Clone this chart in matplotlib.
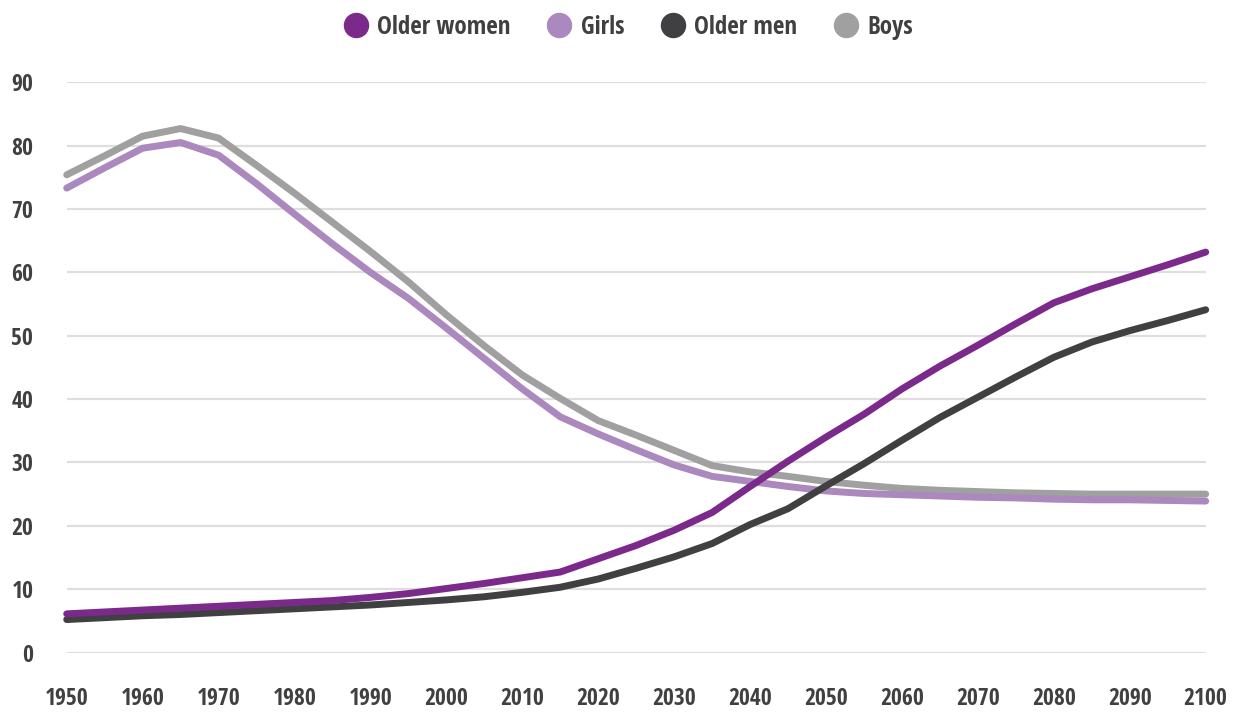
"""
Share of older people vs children, 1950-2100 (line chart).
"""

import matplotlib
matplotlib.use("Agg")
import matplotlib.pyplot as plt
from matplotlib.lines import Line2D

# ─────────────────────────────────────────────
#  DATA (every 5 years)
# ─────────────────────────────────────────────
years = list(range(1950, 2101, 5))

older_women = [6.1, 6.4, 6.7, 7.0, 7.3, 7.6, 7.9, 8.2, 8.7, 9.3,
               10.1, 10.9, 11.8, 12.7, 14.8, 16.9, 19.3, 22.1, 26.2, 30.2,
               34.0, 37.6, 41.6, 45.2, 48.5, 51.9, 55.2, 57.4, 59.3, 61.2,
               63.2]
girls = [73.3, 76.5, 79.6, 80.5, 78.5, 74.0, 69.2, 64.5, 60.0, 55.9,
         51.2, 46.4, 41.6, 37.2, 34.5, 32.0, 29.6, 27.8, 27.0, 26.2,
         25.5, 25.1, 24.9, 24.7, 24.5, 24.4, 24.2, 24.1, 24.1, 24.0,
         23.9]
older_men = [5.2, 5.5, 5.8, 6.0, 6.3, 6.6, 6.9, 7.2, 7.5, 7.9,
             8.3, 8.8, 9.5, 10.3, 11.6, 13.3, 15.1, 17.2, 20.2, 22.7,
             26.3, 29.8, 33.5, 37.1, 40.3, 43.5, 46.6, 49.0, 50.8, 52.4,
             54.1]
boys = [75.4, 78.4, 81.5, 82.7, 81.2, 76.9, 72.5, 67.9, 63.3, 58.5,
        53.3, 48.4, 43.8, 40.1, 36.6, 34.3, 31.9, 29.5, 28.5, 27.8,
        27.0, 26.4, 25.9, 25.6, 25.4, 25.2, 25.1, 25.0, 25.0, 25.0,
        25.0]

series_labels = ["Older women", "Girls", "Older men", "Boys"]
x_ticks = list(range(1950, 2101, 10))
y_ticks = list(range(0, 91, 10))

# ─────────────────────────────────────────────
#  STYLE
# ─────────────────────────────────────────────
colours = ["#7b2a8c", "#ab88be", "#404042", "#a0a0a0"]
text_col = "#404040"
grid_col = "#dedede"

plt.rcParams["font.family"] = ["Open Sans Condensed", "Liberation Sans Narrow",
                               "DejaVu Sans"]
plt.rcParams["font.weight"] = "bold"

fig = plt.figure(figsize=(12.34, 7.12), dpi=100)
ax = fig.add_axes([66.7 / 1234, 59.5 / 712,
                   (1205.7 - 66.7) / 1234, (652.5 - 82.3) / 712])

# draw order: children first, older people on top
for vals, col in zip([boys, girls, older_men, older_women],
                     [colours[3], colours[1], colours[2], colours[0]]):
    ax.plot(years, vals, color=col, lw=5.0, solid_capstyle="round",
            solid_joinstyle="round", clip_on=False, zorder=3)

ax.set_xlim(1950, 2100)
ax.set_ylim(0, 90)
ax.set_xticks(x_ticks)
ax.set_yticks(y_ticks)
ax.grid(axis="y", color=grid_col, lw=1.6, zorder=0)
ax.set_axisbelow(True)
for s in ax.spines.values():
    s.set_visible(False)
ax.tick_params(length=0, labelsize=17, labelcolor=text_col)
ax.tick_params(axis="x", pad=25)
ax.tick_params(axis="y", pad=24)
for lab in ax.get_xticklabels() + ax.get_yticklabels():
    lab.set_fontweight("bold")

# ── legend: big dots above the plot ──────────
handles = [Line2D([], [], ls="none", marker="o", markersize=17.3,
                  markerfacecolor=c, markeredgecolor=c) for c in colours]
fig.legend(handles, series_labels, loc="center", ncol=4,
           bbox_to_anchor=(628 / 1234, 1 - 27 / 712), frameon=False,
           prop={"size": 18, "weight": "bold"}, labelcolor=text_col,
           handlelength=1.0, handletextpad=0.35, columnspacing=1.45,
           borderaxespad=0, borderpad=0)

fig.savefig("out.png", dpi=100, facecolor="white")
